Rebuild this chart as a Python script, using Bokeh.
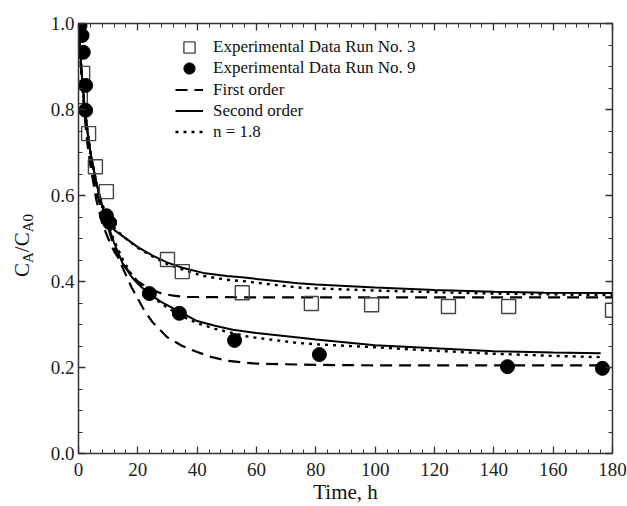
from bokeh.plotting import figure
from bokeh.layouts import row
from bokeh.models import (Range1d, LinearAxis, SingleIntervalTicker, Legend, LegendItem,
                          Div, CustomJSTickFormatter, NumeralTickFormatter)
from bokeh.embed import file_html
from bokeh.resources import INLINE

# ---------------- data ----------------
# Experimental data
run3_t = [0.6, 1.4, 3.4, 5.7, 9.4, 30.0, 35.0, 55.2, 78.5, 98.8, 124.7, 145.0, 180.0]
run3_c = [0.83, 0.884, 0.744, 0.667, 0.609, 0.451, 0.423, 0.374, 0.349, 0.346, 0.342, 0.342, 0.333]

run9_t = [0.5, 1.2, 1.6, 2.4, 2.4, 9.4, 10.5, 23.9, 34.0, 52.6, 81.2, 144.6, 176.6]
run9_c = [0.995, 0.972, 0.933, 0.856, 0.798, 0.553, 0.537, 0.372, 0.326, 0.263, 0.230, 0.202, 0.198]

# Model curves, run 3
r3_second_t = [0, 1, 2, 3, 4, 6, 8, 10, 12, 15, 20, 25, 30, 35, 42, 50, 55, 60, 74, 80, 100, 120, 140, 157, 180]
r3_second_c = [1.0, 0.89, 0.81, 0.75, 0.70, 0.63, 0.575, 0.54, 0.52, 0.505, 0.48, 0.46, 0.444, 0.432,
               0.42, 0.413, 0.41, 0.406, 0.396, 0.393, 0.386, 0.380, 0.376, 0.374, 0.373]
r3_n18_t = [0, 1, 2, 3, 4, 6, 8, 10, 12, 15, 20, 25, 30, 35, 42, 50, 57, 60, 74, 80, 100, 120, 140, 160, 180]
r3_n18_c = [1.0, 0.89, 0.81, 0.75, 0.70, 0.63, 0.58, 0.545, 0.525, 0.505, 0.478, 0.458, 0.44, 0.428,
            0.413, 0.404, 0.400, 0.397, 0.386, 0.384, 0.379, 0.375, 0.372, 0.370, 0.368]
r3_first_t = [0, 1, 2, 3, 4, 6, 8, 10, 12, 15, 18, 20, 24, 28, 32, 36, 40, 60, 100, 180]
r3_first_c = [1.0, 0.88, 0.79, 0.72, 0.67, 0.59, 0.535, 0.50, 0.47, 0.44, 0.415, 0.40, 0.383, 0.372,
              0.367, 0.364, 0.364, 0.363, 0.363, 0.363]

# Model curves, run 9
r9_second_t = [0, 1, 2, 3, 4, 6, 8, 10, 12, 15, 18, 20, 24, 28, 34, 40, 46, 52, 60, 74, 80, 100, 120, 140, 160, 176]
r9_second_c = [1.0, 0.89, 0.81, 0.75, 0.70, 0.63, 0.575, 0.53, 0.49, 0.44, 0.41, 0.395, 0.37, 0.352, 0.33,
               0.308, 0.297, 0.288, 0.28, 0.27, 0.265, 0.252, 0.245, 0.238, 0.235, 0.233]
r9_n18_t = [0, 1, 2, 3, 4, 6, 8, 10, 12, 15, 18, 20, 24, 28, 34, 40, 46, 52, 57, 60, 74, 80, 100, 120, 140, 160, 176]
r9_n18_c = [1.0, 0.89, 0.81, 0.75, 0.70, 0.63, 0.575, 0.535, 0.495, 0.45, 0.415, 0.398, 0.37, 0.348, 0.322,
            0.303, 0.29, 0.28, 0.272, 0.269, 0.257, 0.254, 0.247, 0.239, 0.232, 0.227, 0.224]
r9_first_t = [0, 1, 2, 4, 6, 8, 10, 12, 14, 16, 18, 20, 22, 25, 30, 35, 40, 45, 50, 55, 60, 80, 100, 176]
r9_first_c = [1.0, 0.88, 0.80, 0.69, 0.61, 0.56, 0.525, 0.48, 0.445, 0.415, 0.385, 0.36, 0.335, 0.305,
              0.27, 0.25, 0.236, 0.224, 0.216, 0.212, 0.209, 0.206, 0.205, 0.205]

x_ticks_interval = 20
y_ticks_interval = 0.2

# ---------------- figure ----------------
FONT = "Liberation Serif"
AX = "#333333"
LEFT_W = 36

p = figure(width=627 - LEFT_W, height=506, output_backend="svg", toolbar_location=None,
           x_range=Range1d(0, 180), y_range=Range1d(0, 1.0),
           min_border_left=78 - LEFT_W, min_border_right=15, min_border_top=23, min_border_bottom=53,
           x_axis_label="Time, h")
p.outline_line_color = None
p.xgrid.visible = False
p.ygrid.visible = False
p.background_fill_color = "white"
p.border_fill_color = "white"

xt = SingleIntervalTicker(interval=x_ticks_interval, num_minor_ticks=5)
yt = SingleIntervalTicker(interval=y_ticks_interval, num_minor_ticks=4)

def style_axis(ax):
    ax.axis_line_color = AX
    ax.axis_line_width = 1.5
    ax.major_tick_line_color = AX
    ax.minor_tick_line_color = AX
    ax.major_tick_line_width = 1.3
    ax.minor_tick_line_width = 1.0
    ax.major_tick_in = 7
    ax.major_tick_out = 0
    ax.minor_tick_in = 4
    ax.minor_tick_out = 0
    ax.major_label_text_font = FONT
    ax.major_label_text_font_size = "19px"
    ax.major_label_text_color = "#222222"
    ax.axis_label_text_font = FONT
    ax.axis_label_text_font_size = "21px"
    ax.axis_label_text_font_style = "normal"
    ax.axis_label_text_color = "#111111"

p.xaxis.ticker = xt
p.yaxis.ticker = yt
p.yaxis.formatter = NumeralTickFormatter(format="0.0")
for ax in p.xaxis + p.yaxis:
    style_axis(ax)
p.xaxis.major_label_standoff = 9
p.xaxis.axis_label_standoff = 1
p.yaxis.major_label_standoff = 4

blank = CustomJSTickFormatter(code="return ''")
top = LinearAxis(ticker=xt, formatter=blank)
right = LinearAxis(ticker=yt, formatter=blank)
style_axis(top)
style_axis(right)
top.major_label_standoff = 0
right.major_label_standoff = 0
top.major_label_text_font_size = "2px"
right.major_label_text_font_size = "2px"
p.add_layout(top, "above")
p.add_layout(right, "right")

# ---------------- curves ----------------
DASH = "12 7"
DOT = "3 5"
first3 = p.line(r3_first_t, r3_first_c, line_color="black", line_width=2.2, line_dash=DASH)
p.line(r9_first_t, r9_first_c, line_color="black", line_width=2.2, line_dash=DASH)
second3 = p.line(r3_second_t, r3_second_c, line_color="black", line_width=2.0)
p.line(r9_second_t, r9_second_c, line_color="black", line_width=2.0)
n183 = p.line(r3_n18_t, r3_n18_c, line_color="black", line_width=2.4, line_dash=DOT)
p.line(r9_n18_t, r9_n18_c, line_color="black", line_width=2.4, line_dash=DOT)

sq = p.scatter(run3_t, run3_c, marker="square", size=14, fill_color=None,
               line_color="#444444", line_width=1.4)
ci = p.scatter(run9_t, run9_c, marker="circle", size=14, fill_color="black", line_color="black")

def make_legend(items, loc, gh):
    lg = Legend(items=items, location=loc)
    lg.glyph_width = 28
    lg.glyph_height = gh
    lg.label_height = gh
    lg.spacing = 0
    lg.padding = 0
    lg.margin = 0
    lg.label_standoff = 10
    lg.label_text_font = FONT
    lg.label_text_font_size = "17px"
    lg.label_text_color = "#111111"
    lg.background_fill_alpha = 0
    lg.border_line_alpha = 0
    p.add_layout(lg, "center")

make_legend([LegendItem(label="Experimental Data Run No. 3", renderers=[sq])], (97, 391), 30)
make_legend([LegendItem(label="Experimental Data Run No. 9", renderers=[ci])], (97, 370), 30)
make_legend([LegendItem(label="First order", renderers=[first3]),
             LegendItem(label="Second order", renderers=[second3]),
             LegendItem(label="n = 1.8", renderers=[n183])], (97, 311), 21)

# ---------------- y axis title (with subscripts), rotated HTML text ----------------
ylab_html = (
    '<div style="margin:0; padding:0; margin-left:12px; margin-top:277px; width:max-content; '
    'transform:rotate(-90deg); transform-origin:0 0; white-space:nowrap; '
    'font-family:\'Liberation Serif\'; font-size:21px; line-height:21px; color:#111111;">'
    'C<span style="position:relative; top:4px; font-size:15px;">A</span>/C'
    '<span style="position:relative; top:4px; font-size:15px;">A0</span></div>'
)
side = Div(text=ylab_html, width=LEFT_W, height=506,
           styles={"margin": "0", "padding": "0", "overflow": "visible"})

layout = row(side, p, spacing=0)
open("out.html", "w").write(file_html(layout, INLINE))
